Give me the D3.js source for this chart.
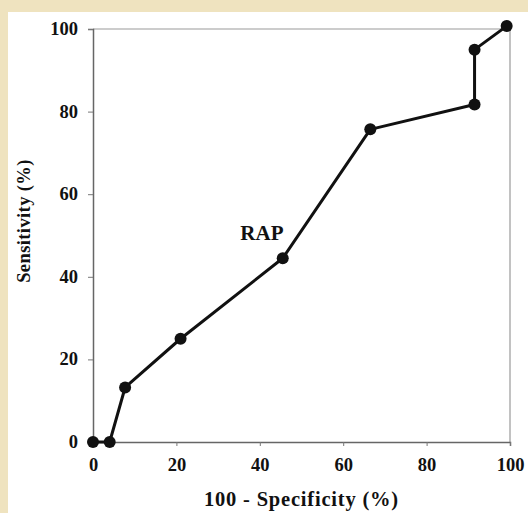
<!DOCTYPE html>
<html>
<head>
  <meta charset="utf-8">
  <title>RAP ROC curve</title>
  <script src="https://d3js.org/d3.v7.min.js"></script>
  <style>
    html, body { margin: 0; padding: 0; background: #efe3bf; }
    svg { display: block; }
    text { font-family: "Liberation Serif", "Times New Roman", serif; font-weight: bold; fill: #111; }
  </style>
</head>
<body>
  <script>
    // data
    var specificity = [0, 4, 7.7, 21, 45.5, 66.5, 91.5, 91.5, 99.2];   // 100 - specificity (%)
    var sensitivity = [0, 0, 13.2, 25, 44.5, 75.7, 81.7, 95, 100.7];   // sensitivity (%)
    var xTicks = [0, 20, 40, 60, 80, 100];
    var yTicks = [0, 20, 40, 60, 80, 100];
    var seriesLabel = 'RAP';

    var w = 528, h = 513;
    var margin = {top: 29, right: 18, bottom: 71, left: 93};
    var innerW = w - margin.left - margin.right,
      innerH = h - margin.top - margin.bottom;

    var svg = d3.select('body').append('svg')
      .attr('width', w)
      .attr('height', h);

    // white page area over the beige background
    svg.append('rect')
      .attr('x', 8).attr('y', 12)
      .attr('width', w - 8).attr('height', h - 12)
      .attr('fill', '#fff');

    var g = svg.append('g')
      .attr('transform', 'translate(' + [margin.left, margin.top] + ')');

    var x = d3.scaleLinear().domain([0, 100]).range([0, innerW]);
    var y = d3.scaleLinear().domain([0, 100]).range([innerH, 0]);

    // frame: top and right edges lighter
    g.append('line').attr('x1', 0).attr('x2', innerW).attr('y1', 0).attr('y2', 0)
      .attr('stroke', '#999').attr('stroke-width', 1.2);
    g.append('line').attr('x1', innerW).attr('x2', innerW).attr('y1', 0).attr('y2', innerH)
      .attr('stroke', '#999').attr('stroke-width', 1.2);

    var yAxis = g.append('g')
      .call(d3.axisLeft(y).tickValues(yTicks).tickSize(5).tickPadding(10));
    var xAxis = g.append('g')
      .attr('transform', 'translate(0,' + innerH + ')')
      .call(d3.axisBottom(x).tickValues(xTicks).tickSize(4).tickPadding(12));

    [xAxis, yAxis].forEach(function(a) {
      a.select('.domain').attr('stroke', '#666').attr('stroke-width', 1.5);
      a.selectAll('.tick line').attr('stroke', '#777').attr('stroke-width', 1);
      a.selectAll('.tick text')
        .attr('font-family', '"Liberation Serif", serif')
        .attr('font-weight', 'bold')
        .attr('font-size', 18.5)
        .attr('fill', '#111');
    });
    yAxis.selectAll('.tick text').attr('dy', '0.3em');

    var pts = specificity.map(function(d, i) { return [d, sensitivity[i]]; });

    var line = d3.line()
      .x(function(d) { return x(d[0]); })
      .y(function(d) { return y(d[1]); });

    g.append('path')
      .datum(pts)
      .attr('d', line)
      .attr('fill', 'none')
      .attr('stroke', '#111')
      .attr('stroke-width', 3)
      .attr('stroke-linejoin', 'round');

    g.selectAll('.pt')
      .data(pts)
      .enter().append('circle')
      .attr('class', 'pt')
      .attr('cx', function(d) { return x(d[0]); })
      .attr('cy', function(d) { return y(d[1]); })
      .attr('r', 6)
      .attr('fill', '#111');

    g.append('text')
      .attr('x', x(40.5))
      .attr('y', y(49))
      .attr('text-anchor', 'middle')
      .attr('font-size', 21)
      .text(seriesLabel);

    svg.append('text')
      .attr('x', margin.left + innerW / 2)
      .attr('y', 506)
      .attr('text-anchor', 'middle')
      .attr('font-size', 20.5)
      .attr('letter-spacing', 0.8)
      .text('100 - Specificity (%)');

    svg.append('text')
      .attr('transform', 'translate(30,221) rotate(-90)')
      .attr('text-anchor', 'middle')
      .attr('font-size', 18.5)
      .attr('letter-spacing', 0.4)
      .text('Sensitivity (%)');
  </script>
</body>
</html>
